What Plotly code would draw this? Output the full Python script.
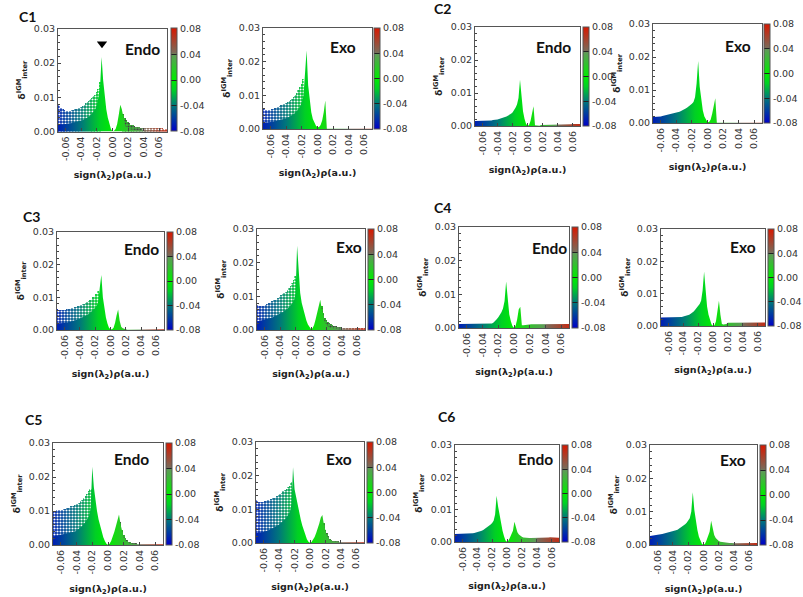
import plotly.graph_objects as go

W, H = 803, 597

# Sign(lambda2)*rho grid (a.u.)
RHO = [-0.070,-0.068,-0.066,-0.064,-0.062,-0.060,-0.058,-0.056,-0.054,-0.052,-0.050,-0.048,-0.046,-0.044,-0.042,-0.040,-0.038,-0.036,
       -0.034,-0.032,-0.030,-0.028,-0.026,-0.024,-0.022,-0.020,-0.018,-0.016,-0.014,-0.012,-0.010,-0.008,-0.006,-0.004,-0.002,0.000,
       0.002,0.004,0.006,0.008,0.010,0.012,0.014,0.016,0.018,0.020,0.022,0.024,0.026,0.028,0.030,0.032,0.034,0.036,
       0.038,0.040,0.042,0.044,0.046,0.048,0.050,0.052,0.054,0.056,0.058,0.060,0.062,0.064,0.066,0.068,0.070]

# dense-region envelope and scattered-cloud envelope, units of 1e-3
C1_ENDO_SOLID = [2.0,2.0,2.1,2.1,2.2,2.2,2.3,2.3,2.4,2.5,2.6,2.7,2.8,3.0,3.1,3.2,3.4,3.6,
                 3.8,4.1,4.4,4.8,5.3,5.9,6.6,8.0,10,13,21.8,15,10,6.5,4,2,0.7,0.1,
                 0.2,0.7,2.2,4.8,7.8,6.5,3.5,1.8,1.2,0.9,0.7,0.6,0.5,0.5,0.4,0.4,0.4,0.3,
                 0.3,0.3,0.3,0.3,0.3,0.3,0.3,0.3,0.3,0.3,0.3,0.3,0.3,0.3,0.3,0.3,0.3]
C1_ENDO_CLOUD = [7.8,7.4,7,6.5,6.3,6,6,6,6,6.2,6.3,6.5,6.7,6.9,7,7.3,7.6,7.9,
                 8.2,8.6,9,9.4,9.8,10.3,10.8,11.5,12.5,14.5,0,0,0,0,0,0,0,0,
                 0,0,0,0,0,0,5,4,3.5,2.8,2.4,2,1.8,1.6,1.4,1.3,1.2,1.1,
                 1.1,1.1,1.0,1.0,1.0,1.1,1.1,1.0,1.0,1.0,1.0,0.9,0.9,0.9,0.8,0.8,0.8]
C1_EXO_SOLID = [1.8,1.9,1.9,2,2,2.1,2.1,2.2,2.3,2.4,2.5,2.6,2.7,2.9,3.0,3.2,3.4,3.6,
                3.9,4.2,4.5,5,5.5,6,7,8,10,18,23.3,13,8,5,3,1.8,1,0.5,
                0.6,1.2,2.5,5,8.5,0.1,0.1,0.1,0.1,0.1,0.1,0.1,0.1,0.1,0.1,0.1,0.1,0.1,
                0.1,0.1,0.1,0.1,0.1,0.1,0.1,0.1,0.1,0.1,0.1,0.1,0.1,0.1,0.1,0.1,0.1]
C1_EXO_CLOUD = [6,5.8,5.6,5.6,5.6,5.7,5.8,6,6.2,6.4,6.6,6.8,7,7.2,7.4,7.7,8,8.3,
                8.6,9,9.5,10,10.8,11.5,12.5,13.5,15,0,0,0,0,0,0,0,0,0,
                0,0,0,0,0,0,0,0,0,0,0,0,0,0,0,0,0,0,
                0,0,0,0,0,0,0,0,0,0,0,0,0,0,0,0,0]
C2_ENDO_SOLID = [1.5,1.5,1.5,1.5,1.5,1.5,1.5,1.6,1.6,1.6,1.7,1.7,1.8,1.8,1.9,2,2.1,2.2,
                 2.4,2.5,2.7,2.9,3.1,3.4,3.7,4.1,4.7,5.5,6.5,8.5,14,8,4.5,2.2,0.7,0.1,
                 0.3,1.5,3.8,6,0.2,0.1,0.1,0.1,0.3,0.3,0.4,0.4,0.4,0.4,0.4,0.4,0.4,0.4,
                 0.4,0.4,0.4,0.4,0.4,0.5,0.5,0.5,0.5,0.5,0.5,0.6,0.6,0.6,0.6,0.6,0.6]
C2_EXO_SOLID = [1.8,1.8,1.9,1.9,2,2,2.1,2.2,2.3,2.4,2.5,2.6,2.7,2.8,3,3.1,3.2,3.4,
                3.6,3.8,4.1,4.4,4.7,5,5.4,5.8,6.4,7.8,12,18.8,11,6.5,3.8,2,0.8,0.2,
                0.3,1,2.8,5,7.5,0.1,0.1,0.1,0.1,0.1,0.1,0.1,0.1,0.1,0.1,0.1,0.1,0.1,
                0.1,0.1,0.1,0.1,0.1,0.1,0.1,0.1,0.1,0.1,0.1,0.1,0.1,0.1,0.1,0.1,0.1]
C3_ENDO_SOLID = [2,2,2,2,2.1,2.1,2.2,2.3,2.4,2.5,2.7,2.8,3,3.1,3.3,3.5,3.7,3.9,
                 4.1,4.4,4.7,5,5.4,5.8,6.3,6.8,7.4,8.8,13,16.8,10,6,3.8,2,0.7,0.2,
                 0.2,0.7,2.2,4.5,6.3,2.8,1,0.5,0.3,0.1,0.1,0.1,0.1,0.1,0.1,0.1,0.1,0.1,
                 0.1,0.1,0.1,0.1,0.1,0.1,0.1,0.1,0.1,0.1,0.1,0.1,0.2,0.2,0.2,0.2,0.2]
C3_ENDO_CLOUD = [6.3,6.2,6.1,6,6,6.1,6.2,6.3,6.4,6.5,6.7,6.8,7,7.1,7.3,7.5,7.7,7.9,
                 8.1,8.4,8.7,9,9.3,9.6,10,10.5,11,12,0,0,0,0,0,0,0,0,
                 0,0,0,0,0,0,0,0,0,0,0,0,0,0,0,0,0,0,
                 0,0,0,0,0,0,0,0,0,0,0,0,0,0,0,0,0]
C3_EXO_SOLID = [2.5,2.6,2.7,2.8,2.9,3,3.1,3.2,3.4,3.5,3.7,3.9,4.1,4.3,4.5,4.8,5.1,5.4,
                5.7,6,6.4,6.9,7.4,8,8.8,11,25,16,11,8,6,4.2,2.8,1.6,0.8,0.3,
                0.5,1.5,3.2,5.5,7.5,9,6,3.5,2.2,1.5,1,0.7,0.5,0.4,0.3,0.3,0.3,0.2,
                0.2,0.2,0.2,0.2,0.2,0.2,0.2,0.2,0.2,0.2,0.2,0.2,0.2,0.2,0.2,0.2,0.2]
C3_EXO_CLOUD = [7.3,7.2,7,7,7.1,7.2,7.4,7.7,8,8.2,8.5,8.8,9,9.3,9.6,10,10.3,10.6,
                11,11.4,12,12.6,13.2,14,15,16,0,0,0,0,0,0,0,0,0,0,
                0,0,0,0,0,0,7,5,3.5,3,2.5,2,1.7,1.5,1.2,1.1,1,0.9,
                0.8,0.7,0.6,0.5,0.5,0.5,0.5,0.4,0.4,0.5,0.5,0.5,0.5,0.4,0.4,0.4,0.4]
C4_ENDO_SOLID = [1.2,1.2,1.2,1.2,1.2,1.2,1.2,1.2,1.2,1.2,1.2,1.2,1.2,1.2,1.2,1.2,1.2,1.2,
                 1.2,1.2,1.2,1.3,1.6,2,2.6,3.2,3.9,4.7,5.8,8,13.8,7.5,4,2,0.6,0.1,
                 0.6,2.5,5.5,6.3,0.8,0.8,0.9,0.9,1,1,1.1,1.1,1.1,1.1,1.1,1.1,1.1,1.1,
                 1.1,1.1,1.1,1.1,1.1,1.1,1.1,1.1,1.1,1.2,1.2,1.2,1.2,1.2,1.2,1.2,1.2]
C4_EXO_SOLID = [2.6,2.6,2.6,2.6,2.6,2.6,2.6,2.6,2.6,2.6,2.6,2.7,2.7,2.8,2.8,2.9,3,3.1,
                3.3,3.5,3.8,4.1,4.5,5,5.5,6,6.8,7.8,11,16.8,10,6,3.5,1.8,0.5,0.1,
                0.2,1.5,4.5,7.8,3.5,0.6,0.5,0.5,0.6,1,1,1,1,1,1,1,1,1,
                1,1,1,1,1,1,1,1,1,1.1,1.1,1.1,1.1,1.1,1.1,1.1,1.1]
C5_ENDO_SOLID = [2.5,2.6,2.7,2.7,2.8,2.9,3,3.1,3.2,3.3,3.4,3.5,3.6,3.8,4,4.3,4.6,5,
                 5.4,5.9,6.4,7,7.8,8.6,11,23,17,13,10,7.5,5.5,3.8,2.3,1.2,0.4,0.1,
                 0.4,1.2,2.3,3.8,5.5,7.5,9,6,3.5,2.2,1.4,0.9,0.6,0.5,0.4,0.3,0.3,0.2,
                 0.2,0.2,0.2,0.2,0.2,0.2,0.2,0.2,0.2,0.2,0.2,0.2,0.2,0.2,0.2,0.2,0.2]
C5_ENDO_CLOUD = [10,10,10,10.2,10.2,10.3,10.4,10.5,10.7,10.8,11,11.2,11.4,11.6,11.8,12,12.2,12.5,
                 12.8,13.2,13.8,14.3,15,15.8,16.5,0,0,0,0,0,0,0,0,0,0,0,
                 0,0,0,0,0,0,0,6.8,4.5,3,2,1.4,1,0.8,0.5,0.4,0.3,0.3,
                 0,0,0,0,0,0,0,0,0,0,0,0,0,0,0,0,0]
C5_EXO_SOLID = [3,3,3,3.1,3.2,3.3,3.4,3.6,3.8,4,4.2,4.4,4.6,4.9,5.2,5.5,5.9,6.3,
                6.7,7.2,7.8,8.5,9.3,11.5,22.5,16,13.5,11,9,7,5.2,3.6,2.2,1.1,0.4,0.1,
                0.3,0.9,1.8,3,4.3,5.8,7.6,8.3,5.5,3.2,2,1.3,0.8,0.5,0.4,0.3,0.2,0.2,
                0.2,0.2,0.2,0.2,0.2,0.2,0.2,0.2,0.2,0.2,0.2,0.2,0.2,0.2,0.2,0.2,0.2]
C5_EXO_CLOUD = [12.8,12.5,12.3,12.2,12.2,12.3,12.4,12.5,12.7,12.9,13,13.3,13.5,13.8,14,14.3,14.7,15,
                15.3,15.6,16,16.5,17,18,0,0,0,0,0,0,0,0,0,0,0,0,
                0,0,0,0,0,0,0,0,6,4,3,2,1.3,1,0.7,0.5,0.4,0.3,
                0,0,0,0,0,0,0,0,0,0,0,0,0,0,0,0,0]
C6_ENDO_SOLID = [2.5,2.5,2.5,2.5,2.5,2.5,2.5,2.5,2.6,2.6,2.6,2.7,2.7,2.8,2.9,3,3.1,3.3,
                 3.5,3.7,4,4.3,4.6,5,5.4,5.9,6.6,8.5,14.3,11,8,5.5,3.5,1.8,0.5,0.1,
                 0.5,1.4,2.3,3.5,6.3,4.2,3,2.3,1.9,1.6,1.4,1.3,1.2,1.2,1.2,1.2,1.2,1.2,
                 1.2,1.2,1.2,1.3,1.3,1.3,1.3,1.3,1.4,1.4,1.5,1.5,1.5,1.5,1.4,1.3,1.3]
C6_EXO_SOLID = [2.7,2.7,2.8,2.9,3,3,3.1,3.2,3.3,3.4,3.5,3.6,3.7,3.8,3.9,4.1,4.2,4.4,
                4.6,4.9,5.2,5.5,5.8,6.2,6.7,7.2,8,10,15.8,10.5,7,4.5,2.5,1.2,0.3,0.1,
                0.4,1.4,2.6,4,7.3,5,3,2.1,1.5,1.2,1,0.9,0.8,0.7,0.6,0.6,0.6,0.6,
                0.5,0.5,0.5,0.5,0.5,0.5,0.5,0.5,0.5,0.5,0.6,0.6,0.7,0.7,0.7,0.6,0.6]

X_TICKS = [-0.06,-0.04,-0.02,0.00,0.02,0.04,0.06]
X_TICK_TEXT = ["-0.06","-0.04","-0.02","0.00","0.02","0.04","0.06"]
CB_TICKS = [-0.08,-0.04,0.00,0.04,0.08]
CB_TICK_TEXT = ["-0.08","-0.04","0.00","0.04","0.08"]
MARKER_X = [-0.0135]
MARKER_Y = [0.0257]

SCALE = [[0.0,"#0000c8"],[0.25,"#00787a"],[0.40,"#00d024"],[0.5,"#00ec00"],[0.74,"#5f9a58"],
         [0.76,"#7a6a58"],[1.0,"#d81800"]]

# name, solid, cloud, box (l,r,top,bottom), colourbar (l,r), label centre
PANELS = [
 ("Endo",C1_ENDO_SOLID,C1_ENDO_CLOUD,(58,167,29,131.5),(171,177),(142,49)),
 ("Exo", C1_EXO_SOLID, C1_EXO_CLOUD, (263,372,28,129),(374,380),(343,47)),
 ("Endo",C2_ENDO_SOLID,None,(475,580,27,126),(583,589),(553,47)),
 ("Exo", C2_EXO_SOLID, None,(653,762,24,123),(764,770),(738,46)),
 ("Endo",C3_ENDO_SOLID,C3_ENDO_CLOUD,(57,164,232,330),(167,173),(141,249)),
 ("Exo", C3_EXO_SOLID, C3_EXO_CLOUD, (257,365,229,330),(368,374),(349,247)),
 ("Endo",C4_ENDO_SOLID,None,(459,569,227,328),(572,578),(549,248)),
 ("Exo", C4_EXO_SOLID, None,(661,765,229,326),(768,774),(743,247)),
 ("Endo",C5_ENDO_SOLID,C5_ENDO_CLOUD,(53,163,443,545),(166,172),(131,459)),
 ("Exo", C5_EXO_SOLID, C5_EXO_CLOUD, (256,364,442,543),(367,373),(339,459)),
 ("Endo",C6_ENDO_SOLID,None,(455,559,445,542),(562,568),(535,459)),
 ("Exo", C6_EXO_SOLID, None,(650,757,445,545),(760,766),(733,460)),
]
LETTERS = [("C1",27,17),("C2",442,9),("C3",31,216),("C4",442,207),("C5",33,419),("C6",446,416)]

TICK_FONT = dict(family="DejaVu Sans", size=9.5, color="#333333")
TITLE_FONT = dict(family="DejaVu Sans", size=9.5, color="#222222")
LABEL_FONT = "Lato"

fig = go.Figure()
layout = {}
annotations = []

for i, (label, solid, cloud, box, cb, centre) in enumerate(PANELS, start=1):
    assert len(solid) == len(RHO), i
    l, r, t, b = box
    xa, ya = f"x{i}", f"y{i}"
    if cloud is not None:
        assert len(cloud) == len(RHO), i
        fig.add_trace(go.Bar(
            x=RHO, y=[v * 1e-3 for v in cloud], xaxis=xa, yaxis=ya, width=0.0022,
            marker=dict(color=RHO, cmin=-0.08, cmax=0.08, colorscale=SCALE, line_width=0,
                        pattern=dict(shape=".", size=3, solidity=0.4, fgcolor="white",
                                     fgopacity=1, fillmode="overlay")),
            showlegend=False, hoverinfo="skip"))
    fig.add_trace(go.Scatter(
        x=RHO, y=[v * 1e-3 for v in solid], xaxis=xa, yaxis=ya, mode="lines+markers",
        line=dict(width=0), fill="tozeroy",
        fillgradient=dict(type="horizontal", colorscale=SCALE, start=-0.08, stop=0.08),
        marker=dict(size=1, opacity=0, color=RHO, cmin=-0.08, cmax=0.08, colorscale=SCALE,
                    showscale=True,
                    colorbar=dict(x=cb[0] / W, xanchor="left", xpad=0, ypad=0,
                                  y=1 - b / H, yanchor="bottom",
                                  lenmode="pixels", len=b - t,
                                  thicknessmode="pixels", thickness=cb[1] - cb[0],
                                  tickmode="array", tickvals=CB_TICKS, ticktext=CB_TICK_TEXT,
                                  ticks="inside", ticklen=6, tickwidth=1, tickcolor="#222222",
                                  outlinecolor="#555555", outlinewidth=1,
                                  tickfont=TICK_FONT)),
        showlegend=False, hoverinfo="skip"))
    sfx = "" if i == 1 else str(i)
    layout["xaxis" + sfx] = dict(
        domain=[l / W, r / W], anchor=ya, range=[-0.07, 0.07],
        tickmode="array", tickvals=X_TICKS, ticktext=X_TICK_TEXT, tickangle=-90,
        ticks="inside", ticklen=3, tickcolor="#444444", showgrid=False, zeroline=False,
        linecolor="#555555", linewidth=1.2, mirror=True, tickfont=TICK_FONT,
        title=dict(text="<b>sign(λ<sub>2</sub>)ρ(a.u.)</b>", font=TITLE_FONT, standoff=11))
    layout["yaxis" + sfx] = dict(
        domain=[1 - b / H, 1 - t / H], anchor=xa, range=[0, 0.03],
        tick0=0, dtick=0.01, tickformat=".2f",
        ticks="inside", ticklen=3, tickcolor="#444444", showgrid=False, zeroline=False,
        minor=dict(dtick=0.002, ticks="inside", ticklen=2, tickcolor="#444444"),
        linecolor="#555555", linewidth=1.2, mirror=True, tickfont=TICK_FONT,
        title=dict(text="<b>δ<sup>IGM</sup><sub>inter</sub></b>", font=TITLE_FONT, standoff=6))
    annotations.append(dict(xref="paper", yref="paper", x=centre[0] / W, y=1 - centre[1] / H,
                            xanchor="center", yanchor="middle",
                            text=f"<b>{label}</b>", showarrow=False,
                            font=dict(family=LABEL_FONT, size=15.5, color="#111111")))

fig.add_trace(go.Scatter(x=MARKER_X, y=MARKER_Y, xaxis="x1", yaxis="y1", mode="markers",
                         marker=dict(symbol="triangle-down", size=9, color="black"),
                         showlegend=False, hoverinfo="skip"))

for text, x, y in LETTERS:
    annotations.append(dict(xref="paper", yref="paper", x=x / W, y=1 - y / H,
                            xanchor="center", yanchor="middle",
                            text=f"<b>{text}</b>", showarrow=False,
                            font=dict(family=LABEL_FONT, size=14, color="#111111")))

fig.update_layout(width=W, height=H, margin=dict(l=0, r=0, t=0, b=0, autoexpand=False), autosize=False,
                  barmode="overlay", bargap=0, paper_bgcolor="white", plot_bgcolor="white",
                  annotations=annotations, **layout)
fig.write_html("out.html", config={"displayModeBar": False},
               post_script="document.body.style.margin='0';")
